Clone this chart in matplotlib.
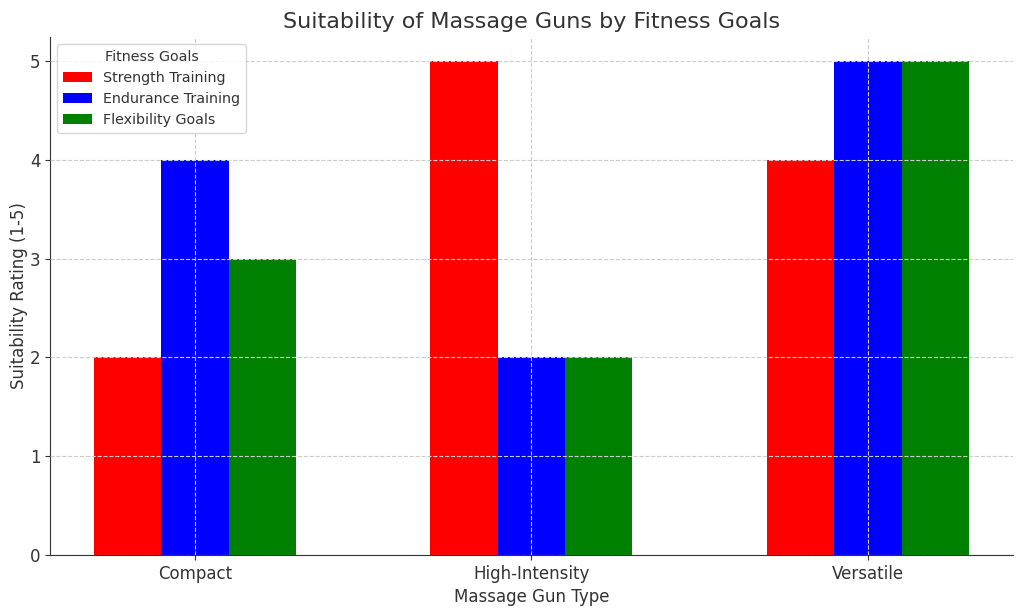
import matplotlib

matplotlib.use("Agg")
import matplotlib.pyplot as plt
import numpy as np

gun_types = ["Compact", "High-Intensity", "Versatile"]
goals = ["Strength Training", "Endurance Training", "Flexibility Goals"]
strength = [2, 5, 4]
endurance = [4, 2, 5]
flexibility = [3, 2, 5]
colors = ["red", "blue", "green"]

TEXT = "#333333"

fig, ax = plt.subplots(figsize=(10.24, 6.11), dpi=100)
x = np.arange(len(gun_types))
width = 0.2
for i, (vals, label) in enumerate(zip([strength, endurance, flexibility], goals)):
    ax.bar(x + (i - 1) * width, vals, width=width, color=colors[i], label=label)

ax.set_title("Suitability of Massage Guns by Fitness Goals", fontsize=16, color=TEXT)
ax.set_xlabel("Massage Gun Type", fontsize=12, color=TEXT)
ax.set_ylabel("Suitability Rating (1-5)", fontsize=12, color=TEXT, labelpad=1)
ax.set_xticks(x, gun_types)
ax.tick_params(labelsize=12, colors=TEXT)
ax.grid(True, linestyle="--", color="#cccccc", linewidth=0.8)
ax.set_axisbelow(False)
for side in ["top", "right"]:
    ax.spines[side].set_visible(False)
for side in ["left", "bottom"]:
    ax.spines[side].set_color(TEXT)

leg = ax.legend(title="Fitness Goals", loc="upper left", fontsize=10.3, title_fontsize=10.3)
for t in leg.get_texts():
    t.set_color(TEXT)
leg.get_title().set_color(TEXT)

fig.subplots_adjust(left=0.049, right=0.989, bottom=0.092, top=0.94)
fig.savefig("out.png")
